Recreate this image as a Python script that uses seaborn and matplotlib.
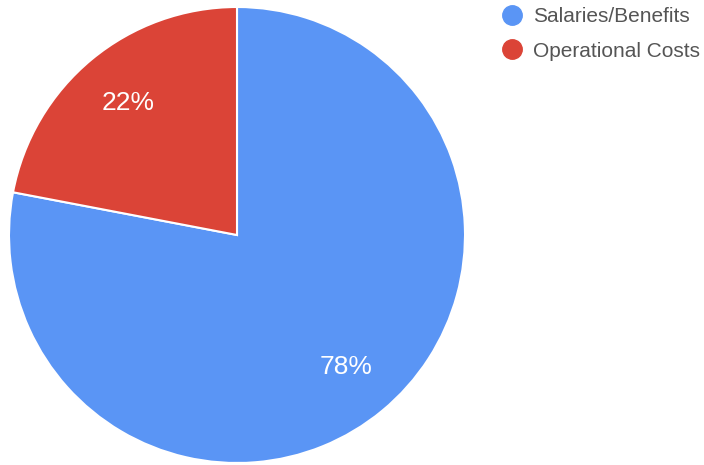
import matplotlib
matplotlib.use("Agg")
import matplotlib.pyplot as plt
from matplotlib.lines import Line2D
import seaborn as sns

categories = ["Salaries/Benefits", "Operational Costs"]
shares = [78, 22]
colors = ["#5A95F5", "#DB4437"]

sns.set_style("white")
plt.rcParams["font.family"] = ["Liberation Sans", "DejaVu Sans"]

fig = plt.figure(figsize=(7.04, 4.65), dpi=100)
ax = fig.add_axes([9 / 704, 2 / 465, 456 / 704, 456 / 465])

wedges, texts, autotexts = ax.pie(
    shares, colors=colors, startangle=90, counterclock=False,
    autopct="%d%%", pctdistance=0.75,
    wedgeprops=dict(edgecolor="white", linewidth=1.5),
    textprops=dict(color="white", fontsize=19),
)
ax.set_aspect("equal")
ax.set_xlim(-1, 1)
ax.set_ylim(-1, 1)

handles = [Line2D([], [], marker="o", linestyle="", markersize=14,
                  markerfacecolor=c, markeredgecolor=c) for c in colors]
fig.legend(handles, categories, loc="upper left",
           bbox_to_anchor=(502 / 704, 1 - 7 / 465), frameon=False,
           fontsize=15, labelcolor="#555555", handlelength=1.0,
           handletextpad=0.5, labelspacing=0.75, borderpad=0,
           borderaxespad=0)

fig.savefig("out.png", dpi=100)
